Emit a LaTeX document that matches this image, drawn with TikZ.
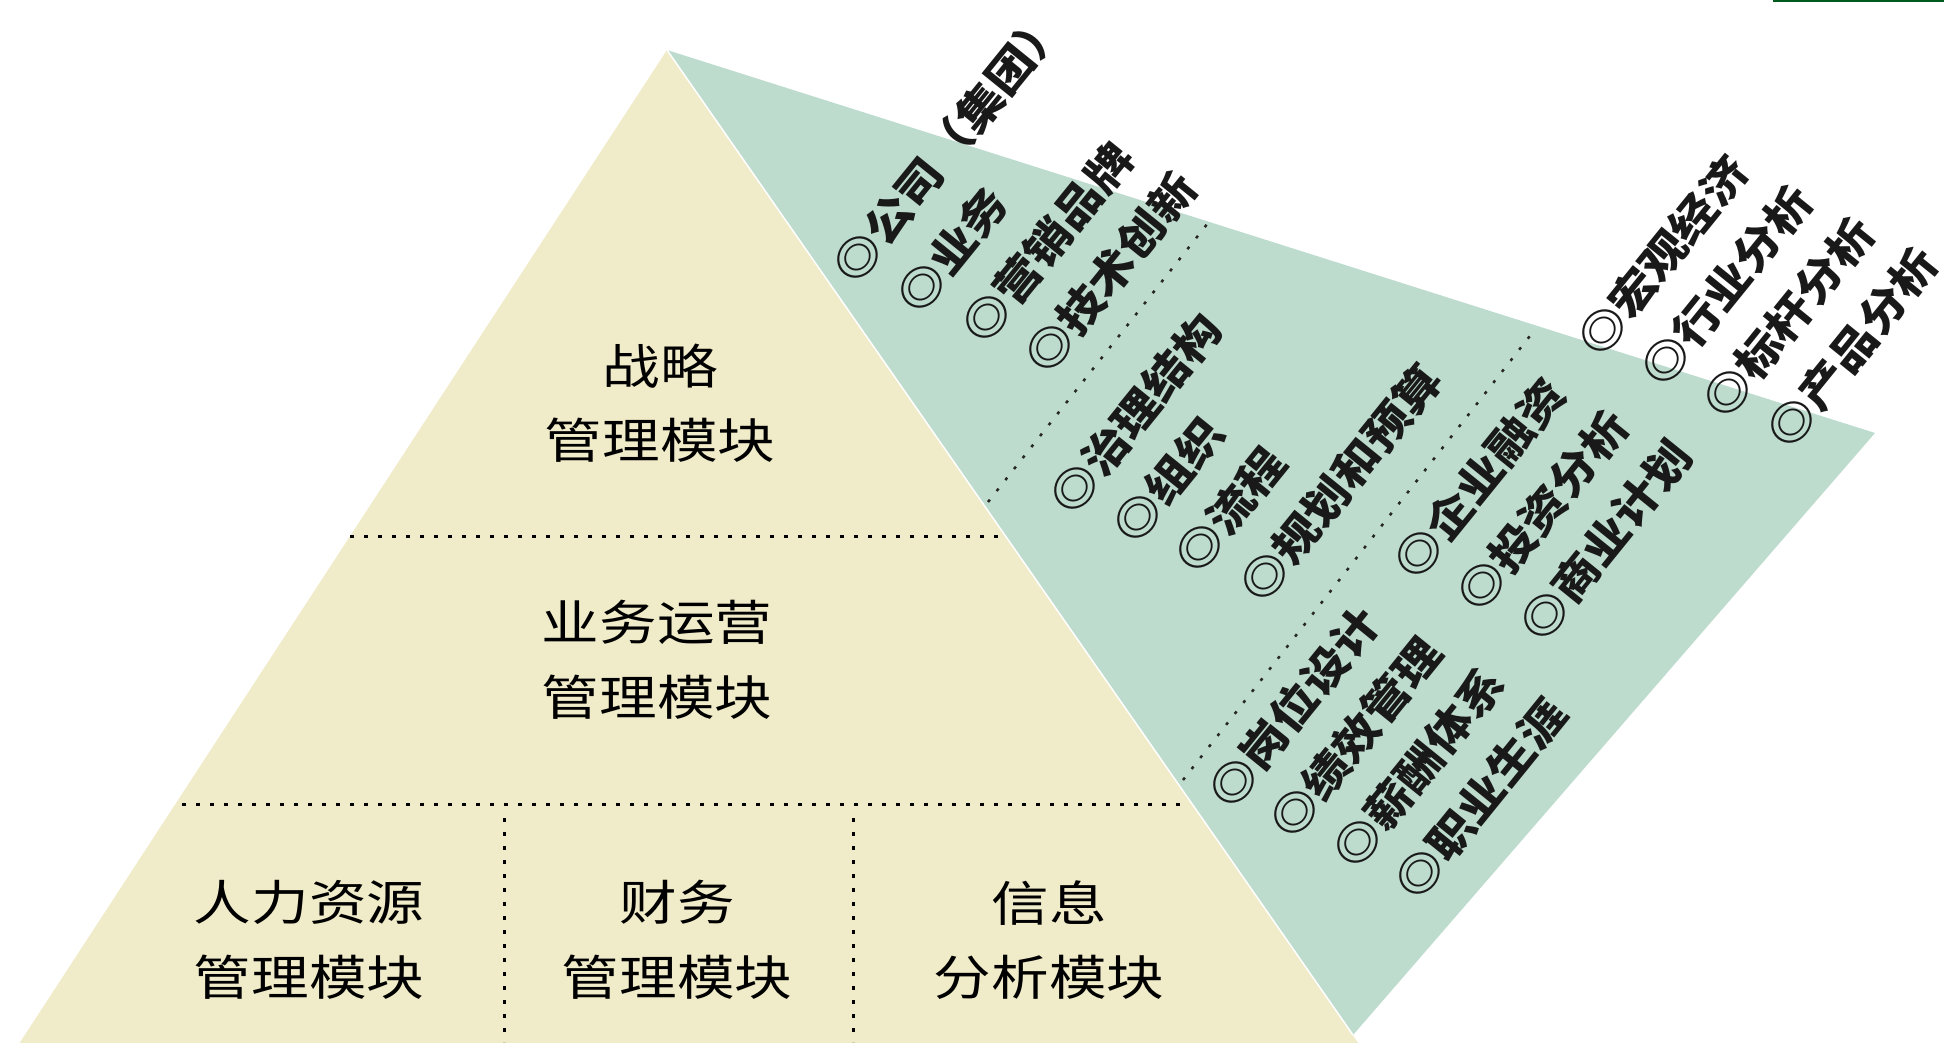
\documentclass[tikz,border=0pt]{standalone}
\usepackage{fontspec}
\newfontfamily\cjkY[FakeStretch=1.2]{Noto Sans CJK SC}
\newfontfamily\cjkG[FakeStretch=1.12]{Noto Sans CJK SC}
\definecolor{pyellow}{RGB}{240,235,200}
\definecolor{pgreen}{RGB}{189,220,206}
\definecolor{topline}{RGB}{0,90,30}
\begin{document}
\begin{tikzpicture}[x=1pt,y=-1pt,
  ytext/.style={font=\cjkY\fontsize{48}{74.5}\selectfont, align=center, inner sep=0pt},
  gtext/.style={font=\cjkG\bfseries\fontsize{43}{50}\selectfont, text=black!90, rotate=51, anchor=west, inner sep=0pt},
  ydot/.style={line width=3pt, dash pattern=on 4pt off 10pt, black},
  gdot/.style={line width=2.5pt, dash pattern=on 3pt off 11pt, black!85}]
\useasboundingbox (0,0) rectangle (1944,1042);
\clip (0,0) rectangle (1944,1042);
% shapes
\coordinate (apex) at (667,50);
\coordinate (bl) at (8.5,1060);
\coordinate (br) at (1370,1060);
\coordinate (gr) at (1875,433);
\coordinate (gb) at (1353,1035);
\fill[pyellow] (apex) -- (bl) -- (br) -- cycle;
\fill[pgreen] (apex) -- (gr) -- (gb) -- cycle;
\draw[white, line width=1.5pt] (apex) -- (gb);
\draw[topline, line width=2pt] (1773,1) -- (1944,1);
% dotted separators
\coordinate (h1a) at (350,536);  \coordinate (h1b) at (1000,536);
\coordinate (h2a) at (182,804);  \coordinate (h2b) at (1185,804);
\coordinate (v1a) at (504,818);  \coordinate (v1b) at (504,1042);
\coordinate (v2a) at (853,818);  \coordinate (v2b) at (853,1042);
\coordinate (g1a) at (988,502);  \coordinate (g1b) at (1208,223);
\coordinate (g2a) at (1183,780); \coordinate (g2b) at (1533,332);
\draw[ydot] (h1a) -- (h1b);
\draw[ydot] (h2a) -- (h2b);
\draw[ydot] (v1a) -- (v1b);
\draw[ydot] (v2a) -- (v2b);
\draw[gdot] (g1a) -- (g1b);
\draw[gdot] (g2a) -- (g2b);
% pyramid labels
\node[ytext] (s1) at (660,403) {战略\\管理模块};
\node[ytext] (s2) at (657,660) {业务运营\\管理模块};
\node[ytext] (s3) at (309,940) {人力资源\\管理模块};
\node[ytext] (s4) at (677,940) {财务\\管理模块};
\node[ytext] (s5) at (1049,940) {信息\\分析模块};
% group 1
\node[gtext] (a1) at (843,276) {◎公司（集团）};
\node[gtext] (a2) at (907,306) {◎业务};
\node[gtext] (a3) at (972,336) {◎营销品牌};
\node[gtext] (a4) at (1035,366) {◎技术创新};
% group 2
\node[gtext] (b1) at (1060,507) {◎治理结构};
\node[gtext] (b2) at (1123,536) {◎组织};
\node[gtext] (b3) at (1185,566) {◎流程};
\node[gtext] (b4) at (1250,595) {◎规划和预算};
% group 3
\node[gtext] (c1) at (1404,572) {◎企业融资};
\node[gtext] (c2) at (1467,604) {◎投资分析};
\node[gtext] (c3) at (1530,634) {◎商业计划};
% group 4
\node[gtext] (d1) at (1587,349) {◎宏观经济};
\node[gtext] (d2) at (1651,379) {◎行业分析};
\node[gtext] (d3) at (1713,411) {◎标杆分析};
\node[gtext] (d4) at (1777,441) {◎产品分析};
% group 5
\node[gtext] (e1) at (1218,801) {◎岗位设计};
\node[gtext] (e2) at (1280,831) {◎绩效管理};
\node[gtext] (e3) at (1343,861) {◎薪酬体系};
\node[gtext] (e4) at (1405,892) {◎职业生涯};
\end{tikzpicture}
\end{document}
